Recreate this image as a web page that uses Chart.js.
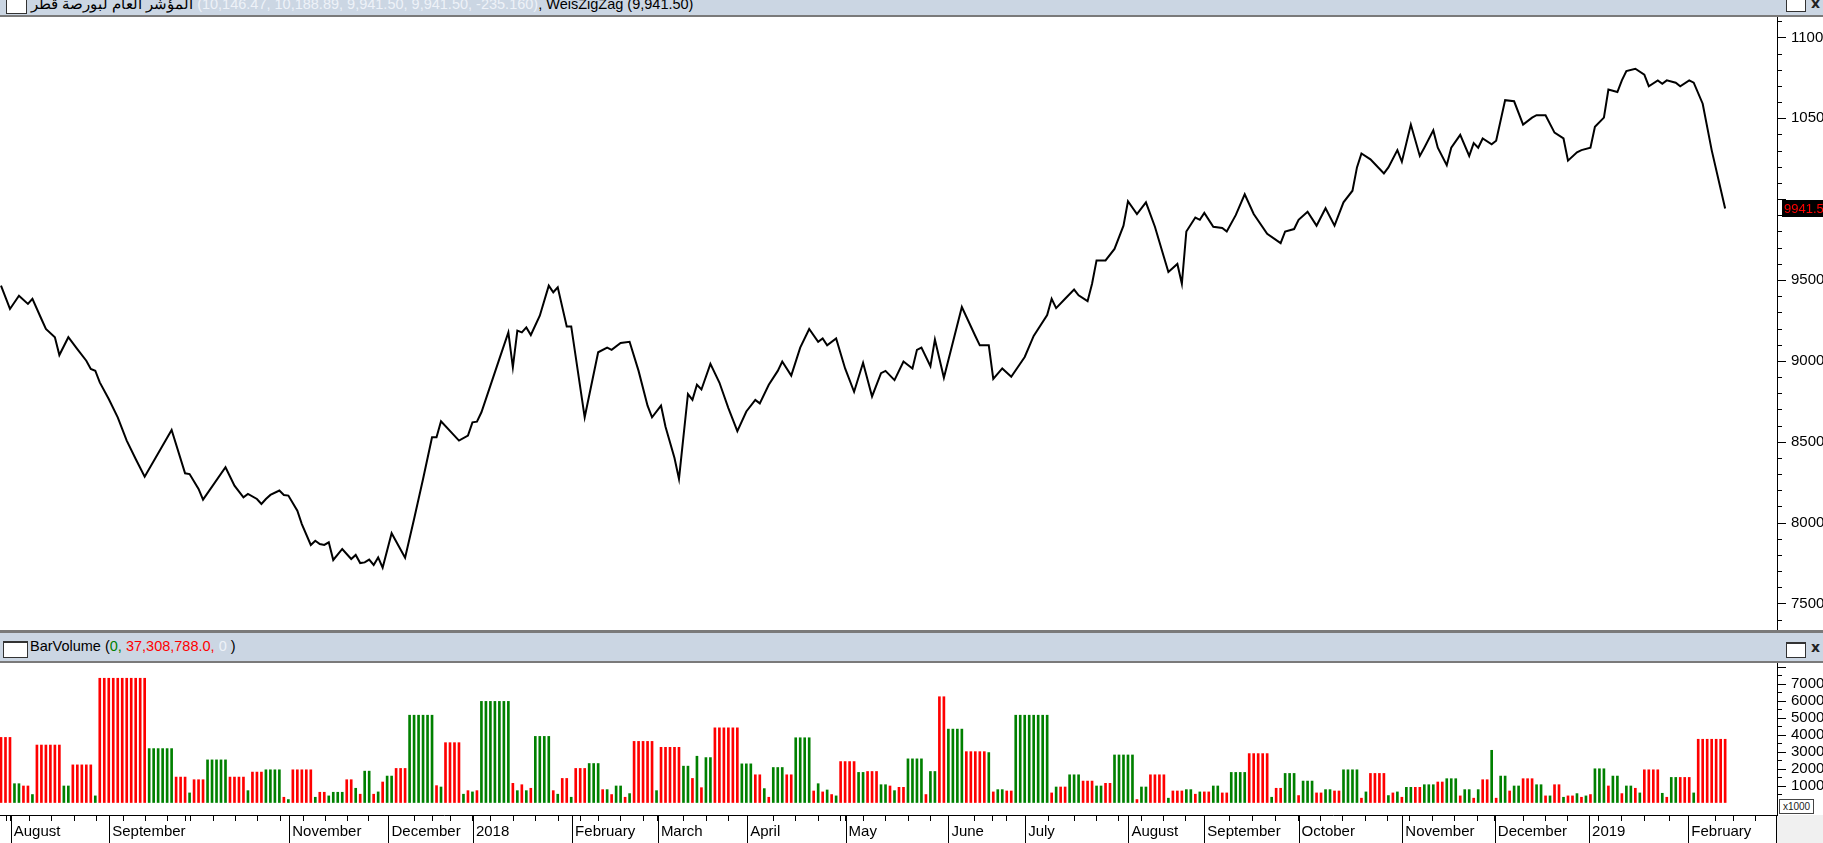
<!DOCTYPE html>
<html>
<head>
<meta charset="utf-8">
<script src="https://cdn.jsdelivr.net/npm/chart.js@4.4.1/dist/chart.umd.min.js"></script>
<style>
html,body{margin:0;padding:0;width:1823px;height:843px;overflow:hidden;background:#fff;font-family:"Liberation Sans",Arial,sans-serif;}
.bar{position:absolute;left:0;width:1823px;background:#cbd6e3;overflow:hidden;}
.line{position:absolute;left:0;width:1823px;background:#7a7a7a;}
.ttl{position:absolute;white-space:nowrap;font-size:14.5px;color:#000;}
.lt{color:#eef2f8;}
.icon{position:absolute;background:#fff;border:1px solid #333;border-top-width:2px;}
.cls{position:absolute;font:bold 14px "DejaVu Sans",sans-serif;color:#222;}
canvas{position:absolute;left:0;}
</style>
</head>
<body>

<div class="bar" style="top:0;height:15px">
  <div class="icon" style="left:6px;top:-5px;width:19px;height:16px"></div>
  <div class="ttl" style="left:31px;top:-4px"><bdi>المؤشر العام لبورصة قطر</bdi> <span class="lt">(10,146.47, 10,188.89, 9,941.50, 9,941.50, -235.160)</span>, WeisZigZag (9,941.50)</div>
  <div class="icon" style="left:1786px;top:-4px;width:18px;height:13px"></div>
  <div class="cls" style="left:1811px;top:-5px">x</div>
</div>
<div class="line" style="top:15px;height:2px"></div>

<canvas id="priceChart" width="1850" height="613" style="top:17px"></canvas>

<div class="line" style="top:630px;height:3px"></div>
<div class="bar" style="top:633px;height:28px">
  <div class="icon" style="left:3px;top:8px;width:23px;height:14px"></div>
  <div class="ttl" style="left:30px;top:5px">BarVolume (<span style="color:#008000">0,</span> <span style="color:#ff0000">37,308,788.0,</span> <span class="lt">0</span> )</div>
  <div class="icon" style="left:1786px;top:9px;width:18px;height:13px"></div>
  <div class="cls" style="left:1811px;top:6px">x</div>
</div>
<div class="line" style="top:661px;height:2px"></div>

<div style="position:absolute;left:1777px;top:815px;width:46px;height:28px;background:#f0f0f0"></div>
<canvas id="volChart" width="1850" height="180" style="top:663px"></canvas>
<div style="position:absolute;left:1779px;top:799px;width:33px;height:13px;border:1px solid #444;background:#fff;font-size:10px;line-height:13px;text-align:center;color:#222">x1000</div>

<script>
// zigzag line: bar number and index value at each turn
const zzBar = [0,2,4,6,7,9,10,12,13,15,17,19,20,21,22,24,26,28,30,32,38,41,42,44,45,50,52,54,55,57,58,59,60,62,63,64,66,67,69,70,71,72,73,74,76,78,79,80,81,82,83,84,85,87,90,92,94,96,97,98,102,104,105,106,107,109,111,113,114,115,116,117,118,120,122,123,124,126,127,130,133,
  135,136,138,140,142,144,145,147,148,150,151,153,154,155,156,158,160,162,164,166,168,169,171,173,174,176,178,180,182,183,184,186,188,190,192,194,196,197,199,201,203,204,205,207,208,210,214,217,218,220,221,223,225,228,230,233,234,235,237,239,240,242,243,244,246,248,250,251,253,255,257,259,260,262,263,264,266,267,268,270,272,273,275,277,279,282,285,286,288,289,291,293,295,297,299,301,302,303,305,306,308,309,311,312,314,316,317,319,320,322,323,325,327,328,329,330,332,333,335,337,339,341,342,344,346,348,349,351,352,354,355,357,358,360,361,362,364,366,367,369,370,371,373,374,376,377,379,381,384];
const zzClose = [9465,9321,9403,9352,9383,9259,9197,9146,9036,9146,9073,9001,8950,8939,8867,8764,8651,8507,8393,8284,8573,8305,8300,8208,8142,8342,8228,8156,8177,8146,8115,8146,8171,8198,8171,8167,8074,7991,7862,7888,7868,7862,7878,7769,7837,7775,7800,7750,7754,7771,7738,7785,7721,7934,7783,8022,8270,8527,8527,8626,8507,8538,8620,8624,8682,8847,9012,9176,8960,9187,9176,9207,9160,9279,9465,9424,9455,9213,9213,8651,9053,
  9082,9068,9111,9118,8938,8723,8651,8723,8593,8399,8270,8795,8759,8852,8823,8981,8866,8708,8565,8687,8759,8737,8852,8938,8996,8909,9082,9197,9118,9139,9096,9139,8953,8809,8988,8780,8924,8938,8881,8996,8953,9068,9082,8967,9132,8895,9333,9154,9096,9096,8888,8953,8902,9024,9154,9283,9384,9326,9384,9441,9405,9369,9477,9621,9621,9692,9836,9987,9908,9980,9829,9642,9549,9599,9477,9800,9886,9872,9915,9829,9822,9800,9901,10030,9908,9786,9728,9800,9815,9872,9922,9836,9944,9836,9980,10052,10196,10282,10246,10217,10159,10196,10303,10231,10461,10267,10318,10425,10318,10210,10318,10397,10267,10346,10318,10375,10339,10361,10612,10605,10461,10504,10519,10519,10411,10375,10238,10289,10303,10318,10447,10504,10677,10662,10734,10792,10806,10770,10698,10734,10713,10734,10720,10698,10734,10720,10590,10303,9941.5];
const lastClose = 9941.5;

// volume, read as runs of equal bars (axis units, x1000 label); 1 = green, 0 = red
const volRun = [3,2,2,1,6,2,5,1,11,6,3,1,3,5,4,1,3,4,1,1,5,1,2,1,3,
  2,1,1,2,1,1,1,2,3,6,1,1,4,1,1,1,1,7,1,1,1,1,1,4,1,1,2,1,3,3,1,1,1,2,1,1,5,1,5,2,1,1,
  1,2,6,3,2,1,1,3,2,4,1,1,1,1,1,1,4,2,3,2,1,1,2,4,1,2,2,4,5,1,1,2,2,8,
  1,1,2,3,3,2,2,5,1,2,4,1,3,2,1,1,2,2,2,4,5,1,2,3,1,3,2,2,2,4,1,1,4,1,1,1,
  1,2,2,3,2,3,1,2,1,1,2,1,1,2,1,2,3,2,1,1,2,1,2,1,1,1,1,3,1,2,1,2,1,1,4,1,1,2,3,1,7];
const volVal = [3840,1110,975,470,3390,975,2220,390,7330,3180,1500,565,1345,2515,1500,700,1795,1930,310,175,1930,310,605,390,605,
  1345,840,490,1850,490,625,1210,1560,2010,5150,995,915,3530,490,700,625,700,5965,1130,700,1050,700,840,3900,700,490,1420,310,2010,2300,760,760,470,975,310,525,3605,700,3255,2145,1420,2730,
  875,2650,4405,2280,1635,820,310,2065,1635,3820,680,1110,625,740,470,390,2415,1775,1830,1050,975,700,895,2575,470,1830,6240,4330,3000,2945,625,760,680,5150,
  565,915,915,1635,1265,975,1130,2805,175,915,1635,255,680,760,490,625,625,975,565,1775,2885,310,840,1715,410,1265,565,760,680,1930,255,625,1715,410,565,625,
  310,895,895,1050,1210,1405,390,760,255,760,1345,3080,255,1560,680,975,1405,1050,390,390,1050,310,390,525,310,390,470,1990,975,1560,525,975,840,565,1930,545,310,1480,1480,565,3731];
const volUp = [0,1,0,1,0,1,0,1,0,1,0,1,0,1,0,1,0,1,0,1,0,1,0,1,1,
  0,1,0,1,0,1,0,1,0,1,0,1,0,1,0,1,0,1,0,1,0,1,0,1,0,1,0,1,0,1,0,1,0,1,0,1,0,1,0,1,0,1,
  0,1,0,1,0,1,0,1,0,1,0,1,0,1,0,1,0,1,0,1,0,1,0,1,0,1,0,1,0,1,0,1,0,1,
  0,1,0,1,0,1,0,1,0,1,0,1,0,1,0,1,0,1,0,1,0,1,0,1,0,1,0,1,0,1,0,1,0,1,0,1,
  0,1,0,1,0,1,0,1,0,1,0,1,0,1,0,1,0,1,0,1,0,1,0,1,0,1,0,1,0,1,0,1,0,1,0,1,0,1,0,1,0];

// time axis, in bar numbers
const monthBar = [2.17,24.1,64.2,86.3,105.1,127.2,146.3,166.2,188.1,211.0,228.1,251.1,268.0,289.0,312.1,332.7,353.7,375.8];
const monthName = ["August","September","November","December","2018","February","March","April","May","June","July","August","September","October","November","December","2019","February"];
const weekBar = [1.27,6.3,11.3,16.3,21.2,27.2,32.2,37.1,41.1,42.1,47.3,52.3,57.2,62.2,67.3,72.2,77.1,81.8,92.1,96.1,100.2,109.1,114.1,119.1,124.1,129,133,138,143.1,152,157.2,162,172,177,182,187,192,197,202.1,207.1,216.9,220.9,224,233.3,239,244,249,254.1,259,263.9,273.7,278.8,283.8,293.8,298.8,303.8,308.8,313.8,318.8,323.8,328.9,339,344,349,355.9,361,366,371.7,381.8,385.8,390.8];

const priceTicks = [];
for (let v = 7400; v <= 11100; v += 100) priceTicks.push(v);
const volTicks = [];
for (let v = 500; v <= 8000; v += 500) volTicks.push(v);

const xMin = -0.2227, xMax = 395.55;
const fontName = "'Liberation Sans', Arial, sans-serif";

let volBars = [], volColors = [];
let n = 0;
volRun.forEach(function (len, k) {
    for (let j = 0; j < len; j++) {
        volBars.push({x: n, y: volVal[k]});
        volColors.push(volUp[k] ? '#008000' : '#ff0000');
        n++;
    }
});

const yTickMarks = {
    id: 'yTickMarks',
    afterDraw(chart, args, opts) {
        const s = chart.scales.y, c = chart.ctx;
        c.save();
        c.strokeStyle = '#000';
        c.lineWidth = 1;
        s.ticks.forEach(function (t) {
            const y = Math.round(s.getPixelForValue(t.value)) + 0.5;
            const len = t.value % opts.major === 0 ? 9 : 5;
            c.beginPath(); c.moveTo(s.left, y); c.lineTo(s.left + len, y); c.stroke();
        });
        c.restore();
    }
};

const lastBox = {
    id: 'lastBox',
    afterDraw(chart) {
        const s = chart.scales.y, c = chart.ctx;
        const y = Math.round(s.getPixelForValue(lastClose));
        c.save();
        c.fillStyle = '#000';
        c.fillRect(s.left + 5, y - 9, 80, 17);
        c.fillStyle = '#ff0000';
        c.font = '13px ' + fontName;
        c.textBaseline = 'middle';
        c.fillText(lastClose.toFixed(2), s.left + 7, y);
        c.restore();
    }
};

const monthLines = {
    id: 'monthLines',
    afterDraw(chart) {
        const x = chart.scales.x, c = chart.ctx;
        c.save();
        c.strokeStyle = '#000';
        c.lineWidth = 1;
        monthBar.forEach(function (b) {
            const px = Math.round(x.getPixelForValue(b)) + 0.5;
            c.beginPath(); c.moveTo(px, x.top); c.lineTo(px, chart.height); c.stroke();
        });
        const r = Math.round(x.right) - 0.5;
        c.beginPath(); c.moveTo(r, x.top); c.lineTo(r, chart.height); c.stroke();
        c.restore();
    }
};

function fitY(s) { s.width = 73; s.paddingTop = 0; s.paddingBottom = 0; }

new Chart(document.getElementById('priceChart'), {
    type: 'line',
    data: {
        datasets: [{
            data: zzBar.map(function (b, k) { return {x: b, y: zzClose[k]}; }),
            borderColor: '#000',
            borderWidth: 2,
            pointRadius: 0,
            tension: 0
        }]
    },
    options: {
        responsive: false, animation: false, devicePixelRatio: 1, events: [],
        layout: {padding: 0},
        plugins: {legend: {display: false}, tooltip: {enabled: false}, yTickMarks: {major: 500}},
        scales: {
            x: {type: 'linear', display: false, min: xMin, max: xMax},
            y: {
                position: 'right', min: 7336, max: 11126,
                afterBuildTicks: function (s) { s.ticks = priceTicks.map(function (v) { return {value: v}; }); },
                afterFit: fitY,
                grid: {drawOnChartArea: false, drawTicks: false},
                border: {display: true, color: '#000', width: 1},
                ticks: {
                    autoSkip: false, padding: 14, color: '#000', font: {family: fontName, size: 15},
                    callback: function (v) { return (v % 500 === 0 && v !== 10000) ? String(v) : ''; }
                }
            }
        }
    },
    plugins: [yTickMarks, lastBox]
});

new Chart(document.getElementById('volChart'), {
    type: 'bar',
    data: {
        datasets: [{
            data: volBars,
            backgroundColor: volColors,
            borderWidth: 0,
            barThickness: 2
        }]
    },
    options: {
        responsive: false, animation: false, devicePixelRatio: 1, events: [],
        layout: {padding: 0},
        plugins: {legend: {display: false}, tooltip: {enabled: false}, yTickMarks: {major: 1000}},
        scales: {
            x: {
                type: 'linear', min: xMin, max: xMax, offset: false,
                afterBuildTicks: function (s) {
                    s.ticks = weekBar.concat(monthBar).sort(function (a, b) { return a - b; })
                        .map(function (v) { return {value: v}; });
                },
                afterFit: function (s) { s.height = 28; s.paddingLeft = 0; s.paddingRight = 0; },
                grid: {drawOnChartArea: false, drawTicks: true, tickLength: 6, color: '#000', offset: false},
                border: {display: true, color: '#000', width: 1},
                ticks: {
                    autoSkip: false, maxRotation: 0, minRotation: 0, align: 'start', labelOffset: 3, padding: 2,
                    color: '#000', font: {family: fontName, size: 15},
                    callback: function (v) { const k = monthBar.indexOf(v); return k >= 0 ? monthName[k] : ''; }
                }
            },
            y: {
                position: 'right', min: -737, max: 8230,
                afterBuildTicks: function (s) { s.ticks = volTicks.map(function (v) { return {value: v}; }); },
                afterFit: fitY,
                grid: {drawOnChartArea: false, drawTicks: false},
                border: {display: true, color: '#000', width: 1},
                ticks: {
                    autoSkip: false, padding: 14, color: '#000', font: {family: fontName, size: 15},
                    callback: function (v) { return (v % 1000 === 0 && v <= 7000) ? String(v) : ''; }
                }
            }
        }
    },
    plugins: [yTickMarks, monthLines]
});
</script>
</body>
</html>
